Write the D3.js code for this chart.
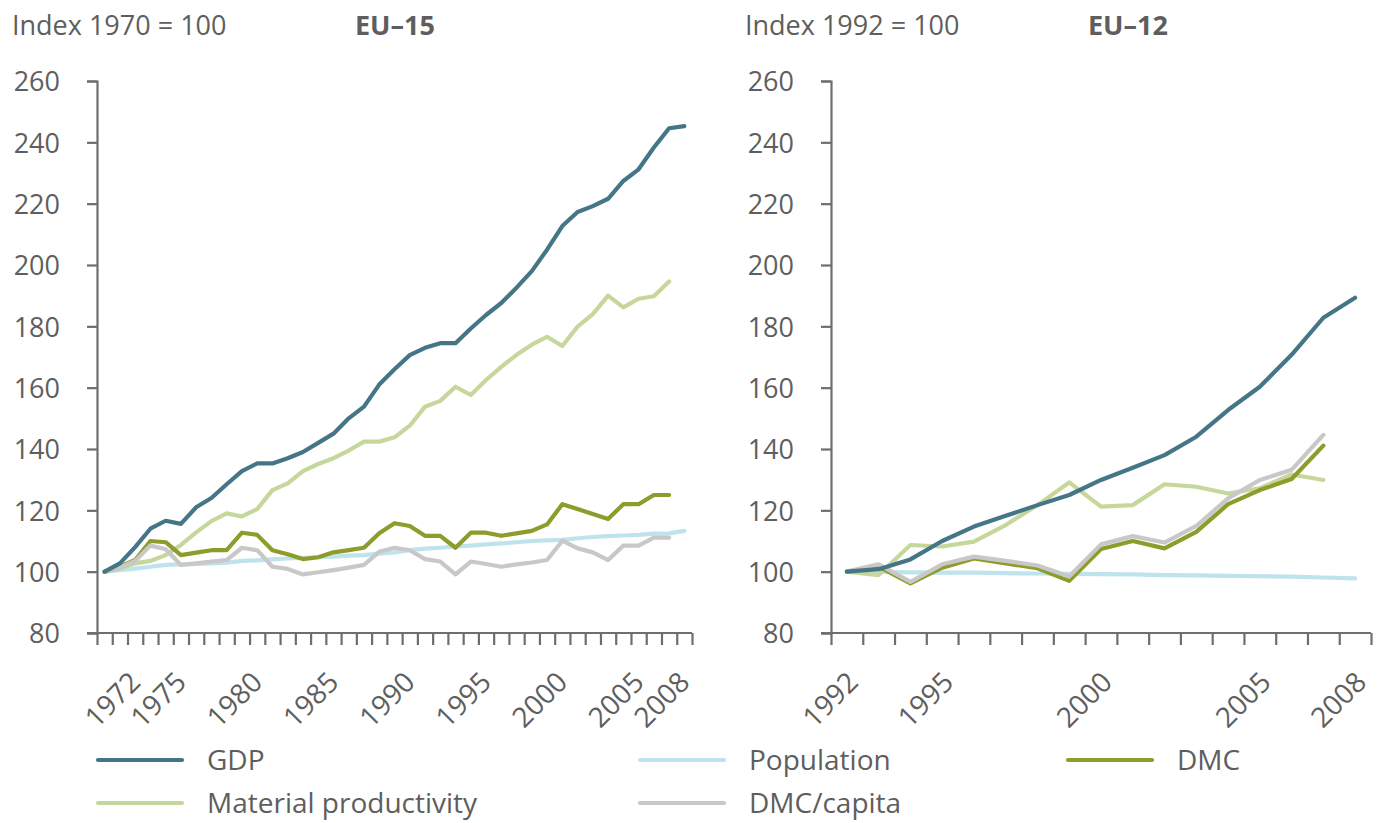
<!DOCTYPE html>
<html>
<head>
<meta charset="utf-8">
<script src="https://cdn.jsdelivr.net/npm/d3@7"></script>
<style>
    body { margin: 0; background: #fff; }
    svg text { font-family: "Open Sans", "Noto Sans", sans-serif; fill: #5e5e5e; }
</style>
</head>
<body>
<svg id="chart" width="1384" height="823"></svg>
<script>
'use strict';

// EU-15, index 1970 = 100
var yearsEU15 = d3.range(1970, 2009);
var gdpEU15 = [100, 102.7, 108, 114, 116.6, 115.6, 121, 124, 128.5, 132.8, 135.3, 135.3, 137, 139, 142, 145,
    150, 153.8, 161, 166, 170.6, 173, 174.5, 174.5, 179.3, 183.7, 187.6, 192.6, 198, 205, 212.7, 217.3,
    219.2, 221.6, 227.4, 231.2, 238.3, 244.6, 245.3];
var popEU15 = [100, 100.5, 101, 101.6, 102.2, 102.4, 102.5, 102.7, 102.9, 103.5, 103.7, 104, 104.3, 104.5,
    104.7, 104.9, 105.2, 105.4, 105.9, 106.3, 107, 107.5, 107.8, 108.2, 108.5, 108.9, 109.2, 109.6, 110,
    110.2, 110.4, 110.9, 111.3, 111.6, 111.8, 112, 112.4, 112.5, 113.3];
var dmcEU15 = [100, 101.6, 103.8, 110, 109.6, 105.4, 106.2, 107, 107, 112.7, 112, 107, 105.7, 104.1, 104.7,
    106.3, 107, 107.8, 112.5, 115.8, 114.9, 111.7, 111.7, 107.8, 112.7, 112.7, 111.7, 112.5, 113.3, 115.4,
    122, 120.4, 118.8, 117.2, 122, 122, 125, 125];
var prodEU15 = [100, 101, 102.7, 103.5, 105.4, 108.7, 112.8, 116.5, 119, 118, 120.4, 126.6, 128.8, 132.8,
    135.1, 137, 139.5, 142.4, 142.4, 143.8, 147.6, 153.8, 155.7, 160.3, 157.6, 162.5, 166.8, 170.7, 174,
    176.6, 173.6, 179.9, 184, 190, 186.2, 189, 189.8, 194.6];
var dmcCapEU15 = [100, 101.4, 103.5, 108.5, 107.3, 102.2, 102.7, 103.3, 103.8, 107.8, 107, 101.6, 100.9,
    99.1, 99.8, 100.5, 101.3, 102.2, 106.5, 107.8, 107, 104.1, 103.3, 99.1, 103.3, 102.5, 101.6, 102.4, 103,
    103.8, 110.1, 107.6, 106.3, 103.8, 108.5, 108.5, 111.1, 111.1];

// EU-12, index 1992 = 100
var yearsEU12 = d3.range(1992, 2009);
var gdpEU12 = [100, 100.8, 104, 110, 114.7, 118.2, 121.7, 125, 129.9, 133.9, 138, 144, 152.7, 160.3, 170.7,
    182.8, 189.3];
var popEU12 = [100, 99.9, 99.8, 99.7, 99.7, 99.5, 99.4, 99.3, 99.2, 99.1, 98.9, 98.8, 98.6, 98.5, 98.4, 98.1,
    97.8];
var dmcEU12 = [100, 101.6, 96.2, 101.3, 104.3, 102.7, 101.1, 97, 107.4, 110, 107.6, 113, 122, 126.6, 130.2,
    141.1];
var prodEU12 = [100, 98.9, 108.7, 108.2, 109.8, 115.2, 121.7, 129.1, 121.2, 121.7, 128.5, 127.7, 125.5, 127.2,
    131.7, 129.9];
var dmcCapEU12 = [100, 102.4, 96.7, 102.4, 104.9, 103.5, 102, 98.4, 108.9, 111.6, 109.5, 114.9, 123.9, 129.9,
    133.2, 144.6];

var yTicks = [80, 100, 120, 140, 160, 180, 200, 220, 240, 260];
var xLabelsEU15 = [1972, 1975, 1980, 1985, 1990, 1995, 2000, 2005, 2008];
var xLabelsEU12 = [1992, 1995, 2000, 2005, 2008];

var colors = {
    "GDP": "#457687",
    "Population": "#bfe3ec",
    "DMC": "#8d9c2a",
    "Material productivity": "#c6d79c",
    "DMC/capita": "#c8c8c8"
};
var drawOrder = ["Population", "Material productivity", "DMC", "DMC/capita", "GDP"];

var svg = d3.select("#chart");
var axisColor = "#6e6e6e";

function drawPanel(opts) {
    var g = svg.append("g");
    var years = opts.years;
    var x = d3.scaleLinear()
        .domain([years[0] - 0.5, years[years.length - 1] + 0.5])
        .range([opts.left, opts.right]);
    var y = d3.scaleLinear().domain([80, 260]).range([633, 81]);

    g.append("text")
        .attr("x", opts.titleX)
        .attr("y", 35)
        .attr("font-size", 27)
        .text(opts.indexLabel);
    g.append("text")
        .attr("x", opts.regionX)
        .attr("y", 35)
        .attr("font-size", 27)
        .attr("font-weight", "bold")
        .text(opts.region);

    // y axis
    var yAxis = d3.axisLeft(y).tickValues(yTicks).tickSize(10).tickPadding(27);
    var gy = g.append("g")
        .attr("transform", "translate(" + opts.left + ",0)")
        .call(yAxis);
    gy.select(".domain").attr("stroke", axisColor).attr("stroke-width", 2.2);
    gy.selectAll(".tick line").attr("stroke", axisColor).attr("stroke-width", 2.2);
    gy.selectAll(".tick text")
        .attr("font-size", 27)
        .attr("font-family", null)
        .attr("fill", null)
        .attr("dy", "0.36em");

    // x axis: ticks at category boundaries
    var bounds = d3.range(years[0] - 0.5, years[years.length - 1] + 1, 1);
    var xAxis = d3.axisBottom(x).tickValues(bounds).tickSize(12).tickFormat("").tickSizeOuter(0);
    var gx = g.append("g")
        .attr("transform", "translate(0,633)")
        .call(xAxis);
    gx.select(".domain").remove();
    gx.append("line")
        .attr("x1", opts.left - 10)
        .attr("x2", opts.right)
        .attr("stroke", axisColor)
        .attr("stroke-width", 2.2);
    gx.selectAll(".tick line").attr("stroke", axisColor).attr("stroke-width", 2.2);

    g.append("g").selectAll("text")
        .data(opts.xLabels)
        .enter()
        .append("text")
        .attr("font-size", 28)
        .attr("text-anchor", "end")
        .attr("transform", function(d) {
            return "translate(" + (x(d) + opts.labelShift) + ",670) rotate(-45)";
        })
        .attr("dy", "0.7em")
        .text(function(d) { return d; });

    var line = d3.line()
        .x(function(d) { return x(d.year); })
        .y(function(d) { return y(d.value); });

    drawOrder.forEach(function(name) {
        var values = opts.series[name];
        var pts = values.map(function(v, i) { return {year: years[i], value: v}; });
        g.append("path")
            .datum(pts)
            .attr("fill", "none")
            .attr("stroke", colors[name])
            .attr("stroke-width", 4.2)
            .attr("stroke-linejoin", "round")
            .attr("stroke-linecap", "round")
            .attr("d", line);
    });
}

drawPanel({
    years: yearsEU15,
    left: 97,
    right: 692,
    labelShift: -7,
    titleX: 12,
    regionX: 355,
    indexLabel: "Index 1970 = 100",
    region: "EU\u201315",
    xLabels: xLabelsEU15,
    series: {
        "GDP": gdpEU15,
        "Population": popEU15,
        "DMC": dmcEU15,
        "Material productivity": prodEU15,
        "DMC/capita": dmcCapEU15
    }
});

drawPanel({
    years: yearsEU12,
    left: 831,
    right: 1371,
    labelShift: -1,
    titleX: 745,
    regionX: 1088,
    indexLabel: "Index 1992 = 100",
    region: "EU\u201312",
    xLabels: xLabelsEU12,
    series: {
        "GDP": gdpEU12,
        "Population": popEU12,
        "DMC": dmcEU12,
        "Material productivity": prodEU12,
        "DMC/capita": dmcCapEU12
    }
});

// legend
var legendItems = [
    {name: "GDP", x: 98, y: 760},
    {name: "Population", x: 640, y: 760},
    {name: "DMC", x: 1068, y: 760},
    {name: "Material productivity", x: 98, y: 803},
    {name: "DMC/capita", x: 640, y: 803}
];
var legend = svg.append("g").attr("class", "legend");
legendItems.forEach(function(item) {
    legend.append("line")
        .attr("x1", item.x)
        .attr("x2", item.x + 84)
        .attr("y1", item.y)
        .attr("y2", item.y)
        .attr("stroke", colors[item.name])
        .attr("stroke-width", 4.2)
        .attr("stroke-linecap", "round");
    legend.append("text")
        .attr("x", item.x + 109)
        .attr("y", item.y)
        .attr("dy", "0.36em")
        .attr("font-size", 28)
        .text(item.name);
});
</script>
</body>
</html>
